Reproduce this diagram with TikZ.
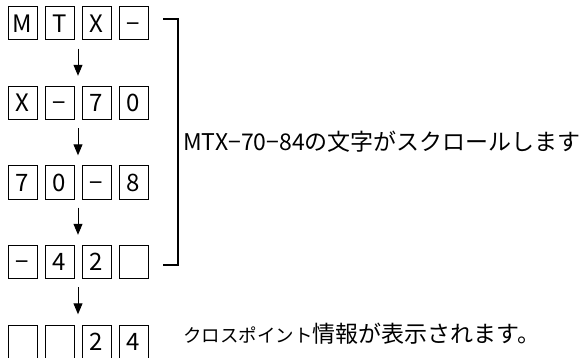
\documentclass[tikz,border=0pt]{standalone}
\usepackage{fontspec}
\newfontfamily\jpfont{Noto Sans CJK JP}
\usetikzlibrary{arrows.meta}
\tikzset{
  cell/.style={draw, line width=1pt, minimum width=29pt, minimum height=33pt,
    inner sep=0pt, text height=17.5pt, text depth=0pt,
    font=\jpfont\fontsize{24}{24}\selectfont},
  rowbox/.style={minimum width=140pt, minimum height=33pt, inner sep=0pt},
  note/.style={anchor=west, inner sep=0pt, font=\jpfont\fontsize{23}{23}\selectfont},
}
\begin{document}
\begin{tikzpicture}[x=1pt,y=-1pt]
      \useasboundingbox (0,0) rectangle (583,358);
      % display rows
      \draw
        (22.5,23.5) node[cell] (a1){M}
        (59.5,23.5) node[cell] (a2){T}
        (96.5,23.5) node[cell] (a3){X}
        (133.5,23.5) node[cell] (a4){−}
        (22.5,103) node[cell] (b1){X}
        (59.5,103) node[cell] (b2){−}
        (96.5,103) node[cell] (b3){7}
        (133.5,103) node[cell] (b4){0}
        (22.5,182.5) node[cell] (c1){7}
        (59.5,182.5) node[cell] (c2){0}
        (96.5,182.5) node[cell] (c3){−}
        (133.5,182.5) node[cell] (c4){8}
        (22.5,262) node[cell] (d1){−}
        (59.5,262) node[cell] (d2){4}
        (96.5,262) node[cell] (d3){2}
        (133.5,262) node[cell] (d4){}
        (22.5,341.5) node[cell] (e1){}
        (59.5,341.5) node[cell] (e2){}
        (96.5,341.5) node[cell] (e3){2}
        (133.5,341.5) node[cell] (e4){4};
      \path
        (78,23.5) node[rowbox] (r1){}
        (78,103) node[rowbox] (r2){}
        (78,182.5) node[rowbox] (r3){}
        (78,262) node[rowbox] (r4){}
        (78,341.5) node[rowbox] (r5){};
      \begin{scope}[-{Triangle[width=9pt,length=11pt]}, line width=1pt,
          shorten <=8.5pt, shorten >=10.5pt]
        \draw (r1) to (r2);
        \draw (r2) to (r3);
        \draw (r3) to (r4);
        \draw (r4) to (r5);
      \end{scope}
      % bracket and notes
      \coordinate (top) at (163,19);
      \coordinate (bot) at (163,265);
      \draw[line width=1.3pt] (top) -- ++(15,0) |- (bot);
      \node[note] (scroll) at (183,142) {MTX−70−84の文字がスクロールします};
      \node[note] (info) at (183,334) {{\fontsize{18.5}{18.5}\selectfont クロスポイント}情報が表示されます。};
    \end{tikzpicture}
\end{document}
